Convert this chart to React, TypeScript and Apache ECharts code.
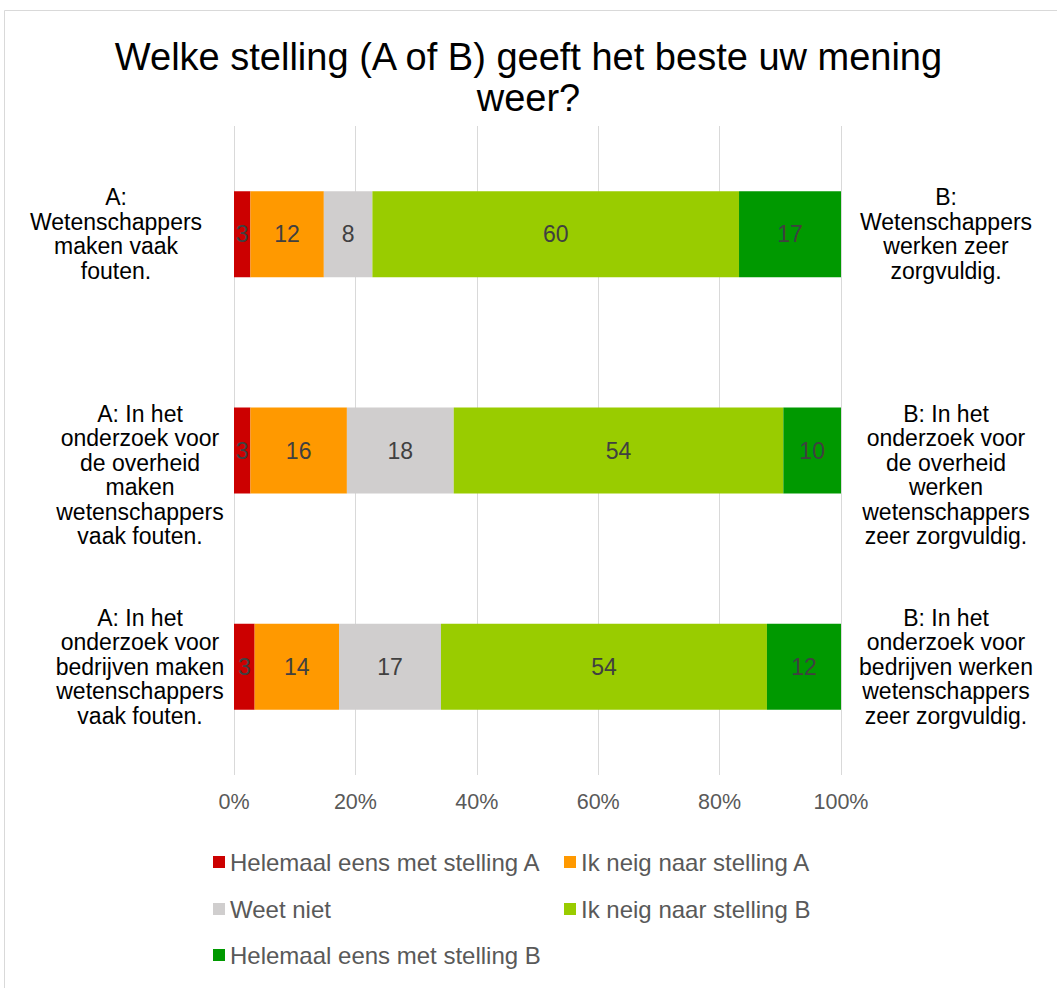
import React, { useEffect, useRef } from "react";
import * as echarts from "echarts";

const titleText = "Welke stelling (A of B) geeft het beste uw mening\nweer?";

const categoriesA = [
  "A:\nWetenschappers\nmaken vaak\nfouten.",
  "A: In het\nonderzoek voor\nde overheid\nmaken\nwetenschappers\nvaak fouten.",
  "A: In het\nonderzoek voor\nbedrijven maken\nwetenschappers\nvaak fouten.",
];
const categoriesB = [
  "B:\nWetenschappers\nwerken zeer\nzorgvuldig.",
  "B: In het\nonderzoek voor\nde overheid\nwerken\nwetenschappers\nzeer zorgvuldig.",
  "B: In het\nonderzoek voor\nbedrijven werken\nwetenschappers\nzeer zorgvuldig.",
];

const seriesNames = [
  "Helemaal eens met stelling A",
  "Ik neig naar stelling A",
  "Weet niet",
  "Ik neig naar stelling B",
  "Helemaal eens met stelling B",
];
const seriesColors = ["#CC0000", "#FF9900", "#D0CECE", "#99CC00", "#009900"];

const helemaalA = [2.7, 2.7, 3.4];
const neigA = [12.1, 15.9, 13.9];
const weetNiet = [8.0, 17.6, 16.8];
const neigB = [60.4, 54.3, 53.7];
const helemaalB = [16.8, 9.5, 12.2];
const seriesValues = [helemaalA, neigA, weetNiet, neigB, helemaalB];

const xTicks = [0, 20, 40, 60, 80, 100];

const FONT = "'Liberation Sans', Arial, sans-serif";

export default function App() {
  const ref = useRef<HTMLDivElement>(null);

  useEffect(() => {
    if (!ref.current) return;
    const chart = echarts.init(ref.current, null, { renderer: "svg" });

    const legendPos = [
      { left: 213, top: 850 },
      { left: 564, top: 850 },
      { left: 213, top: 897 },
      { left: 564, top: 897 },
      { left: 213, top: 943 },
    ];

    const catFont = { fontFamily: FONT, fontSize: 23, lineHeight: 24.5, color: "#000000" };

    const option: any = {
      animation: false,
      backgroundColor: "#ffffff",
      textStyle: { fontFamily: FONT },
      title: {
        text: titleText,
        left: "center",
        top: 31,
        textStyle: {
          fontFamily: FONT,
          fontSize: 38,
          fontWeight: "normal",
          color: "#000000",
          lineHeight: 41,
        },
      },
      graphic: [
        {
          type: "rect",
          shape: { x: 4.5, y: 10.5, width: 1100, height: 1100 },
          style: { fill: "none", stroke: "#d9d9d9", lineWidth: 1 },
          silent: true,
        },
      ],
      legend: seriesNames.map((name, i) => ({
        data: [name],
        left: legendPos[i].left,
        top: legendPos[i].top,
        padding: 0,
        itemWidth: 12,
        itemHeight: 12,
        icon: "rect",
        textStyle: {
          fontFamily: FONT,
          fontSize: 24,
          color: "#595959",
          lineHeight: 24,
        },
      })),
      grid: {
        left: 234,
        right: 216,
        top: 126,
        bottom: 988 - 775,
        containLabel: false,
      },
      xAxis: {
        type: "value",
        min: xTicks[0],
        max: xTicks[xTicks.length - 1],
        interval: 20,
        axisLine: { show: false },
        axisTick: { show: false },
        splitLine: { show: true, lineStyle: { color: "#d9d9d9", width: 1 } },
        axisLabel: {
          formatter: (v: number) => `${v}%`,
          fontFamily: FONT,
          fontSize: 21.5,
          color: "#595959",
          margin: 16,
        },
      },
      yAxis: [
        {
          type: "category",
          inverse: true,
          data: categoriesA,
          position: "left",
          axisLine: { show: false },
          axisTick: { show: false },
          splitLine: { show: false },
          axisLabel: {
            interval: 0,
            align: "center",
            margin: 94,
            ...catFont,
            rich: {
              s: { ...catFont, padding: [0, 48, 0, 0] },
              n: { ...catFont },
            },
            formatter: (v: string, idx: number) =>
              idx === 0 ? `{s|${v}}` : idx === 1 ? `{n|\n\n${v}}` : `{n|${v}}`,
          },
        },
        {
          type: "category",
          inverse: true,
          data: categoriesB,
          position: "right",
          axisLine: { show: false },
          axisTick: { show: false },
          splitLine: { show: false },
          axisLabel: {
            interval: 0,
            align: "center",
            margin: 105,
            ...catFont,
            formatter: (v: string, idx: number) => (idx === 1 ? "\n\n" + v : v),
          },
        },
      ],
      series: seriesNames.map((name, i) => ({
        name,
        type: "bar",
        stack: "total",
        yAxisIndex: 0,
        barWidth: 86,
        data: seriesValues[i],
        itemStyle: { color: seriesColors[i] },
        label: {
          show: true,
          position: "inside",
          formatter: (p: any) => `${Math.round(p.value)}`,
          fontFamily: FONT,
          fontSize: 23,
          color: "#404040",
        },
      })),
    };

    chart.setOption(option);
    return () => chart.dispose();
  }, []);

  return (
    <div
      ref={ref}
      style={{ position: "absolute", left: 0, top: 0, width: 1057, height: 988 }}
    />
  );
}
